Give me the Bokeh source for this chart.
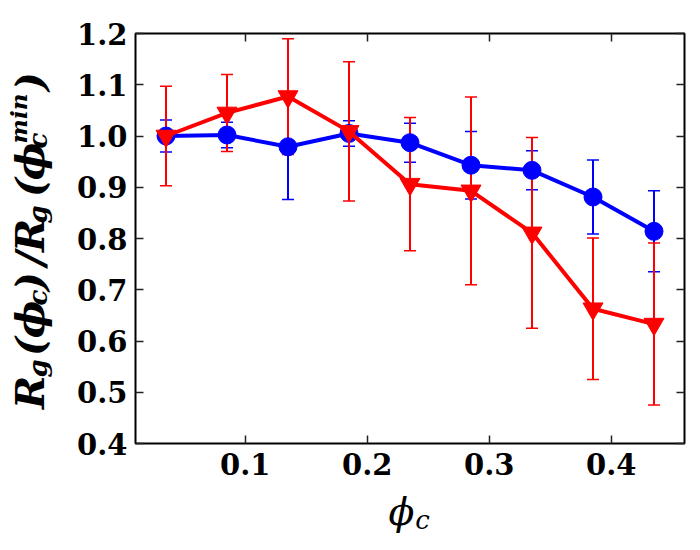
import math
from bokeh.plotting import figure
from bokeh.layouts import row, column
from bokeh.core.properties import value
from bokeh.models import (Range1d, FixedTicker, LinearAxis, Whisker, ColumnDataSource,
                          NumeralTickFormatter, TeeHead)
from bokeh.embed import file_html
from bokeh.resources import INLINE

# ---- data ----
phi_c = [0.035, 0.085, 0.135, 0.185, 0.235, 0.285, 0.335, 0.385, 0.435]
blue_ratio = [1.000, 1.002, 0.979, 1.005, 0.987, 0.943, 0.933, 0.881, 0.814]
blue_err = [0.031, 0.025, 0.103, 0.025, 0.038, 0.066, 0.038, 0.072, 0.079]
red_ratio = [1.000, 1.045, 1.077, 1.009, 0.906, 0.893, 0.811, 0.663, 0.633]
red_err = [0.097, 0.075, 0.113, 0.136, 0.130, 0.183, 0.186, 0.138, 0.158]
x_ticks = [0.1, 0.2, 0.3, 0.4]
y_ticks = [0.4, 0.5, 0.6, 0.7, 0.8, 0.9, 1.0, 1.1, 1.2]

BLUE = "#0000ff"
RED = "#ff0000"

W, H = 700, 550
LW = 60           # width of the y-label strip
MH = 490          # height of the main plot (incl. tick labels)
FL, FR, FT, FB = 135, 684, 33, 443  # frame edges in full-page px
X0, X1, Y0, Y1 = 0.01, 0.46, 0.4, 1.2

p = figure(width=W - LW, height=MH, output_backend="svg", toolbar_location=None,
           x_range=Range1d(X0, X1), y_range=Range1d(Y0, Y1),
           min_border_left=FL - LW, min_border_right=W - FR,
           min_border_top=FT, min_border_bottom=MH - FB)
p.background_fill_color = "white"
p.border_fill_color = "white"
p.grid.visible = False
p.outline_line_color = "black"
p.outline_line_width = 2

TICK_FONT = "DejaVu Serif"
for ax in p.xaxis:
    ax.ticker = FixedTicker(ticks=x_ticks)
    ax.formatter = NumeralTickFormatter(format="0.0")
for ax in p.yaxis:
    ax.ticker = FixedTicker(ticks=y_ticks)
    ax.formatter = NumeralTickFormatter(format="0.0")
for ax in list(p.xaxis) + list(p.yaxis):
    ax.axis_line_color = None
    ax.major_tick_in = 8
    ax.major_tick_out = 0
    ax.minor_tick_line_color = None
    ax.major_tick_line_color = "#222222"
    ax.major_tick_line_width = 1.5
    ax.major_label_text_font = TICK_FONT
    ax.major_label_text_font_style = "bold"
    ax.major_label_text_font_size = "29px"
    ax.major_label_text_color = "black"
p.xaxis.major_label_standoff = 9
p.yaxis.major_label_standoff = 8


def mirror_axis(ticks):
    return LinearAxis(ticker=FixedTicker(ticks=ticks), axis_line_color=None,
                      major_tick_in=8, major_tick_out=0, minor_tick_line_color=None,
                      major_tick_line_color="#222222", major_tick_line_width=1.5,
                      major_label_text_color=None, major_label_text_font_size="1px",
                      major_label_standoff=0)


p.add_layout(mirror_axis(x_ticks), "above")
p.add_layout(mirror_axis(y_ticks), "right")


def series(y, err, color, marker, size):
    src = ColumnDataSource(dict(
        x=phi_c, y=y,
        lo=[a - e for a, e in zip(y, err)],
        hi=[a + e for a, e in zip(y, err)]))
    w = Whisker(source=src, base="x", lower="lo", upper="hi", dimension="height",
                line_color=color, line_width=2,
                lower_head=TeeHead(size=12, line_color=color, line_width=1.5),
                upper_head=TeeHead(size=12, line_color=color, line_width=1.5))
    p.add_layout(w)
    p.line("x", "y", source=src, line_color=color, line_width=4)
    p.scatter("x", "y", source=src, marker=marker, size=size,
              fill_color=color, line_color=color)


series(blue_ratio, blue_err, BLUE, "circle", 18)
series(red_ratio, red_err, RED, "inverted_triangle", 20)


def strip(width, height, top=0, bottom=0):
    f = figure(width=width, height=height, output_backend="svg", toolbar_location=None,
               x_range=Range1d(0, width), y_range=Range1d(0, height - top - bottom),
               x_axis_location=None, y_axis_location=None, title=None,
               min_border=0, min_border_left=0, min_border_right=0,
               min_border_top=top, min_border_bottom=bottom)
    f.grid.visible = False
    f.outline_line_color = None
    f.background_fill_color = "white"
    f.border_fill_color = "white"
    return f


LBL_FONT = "DejaVu Serif"
SHIFT = 0.36  # offset (in em) between anchor and drawn baseline

# ---- y axis label: R_g(phi_c)/R_g(phi_c^min), composed of text pieces ----
# strip frame coincides with the main frame (rows align frames): y from FT to FB
ylab = strip(LW, MH, top=FT, bottom=MH - FB)
MAIN, SUB, SUP = 40, 26, 23
BASE, SUBB, SUPB = 43, 47, 26
ylabel_pieces = [
    ("R", 392, BASE, MAIN), ("g", 368, SUBB, SUB), ("(", 346, BASE, MAIN),
    ("ϕ", 319, BASE, MAIN), ("c", 297, SUBB, SUB), (")", 281, BASE, MAIN),
    ("/", 258, BASE, MAIN), ("R", 235, BASE, MAIN), ("g", 214, SUBB, SUB),
    ("(", 187, BASE, MAIN), ("ϕ", 161, BASE, MAIN), ("c", 140, SUBB, SUB),
    ("min", 118, SUPB, SUP), (")", 81, BASE, MAIN),
]
for t, cy, bx, fs in ylabel_pieces:
    ylab.text(x=[bx - SHIFT * fs], y=[FB - cy], text=[t], angle=math.pi / 2,
              text_align="center", text_baseline="alphabetic",
              text_font=value(LBL_FONT), text_font_style="bold italic",
              text_font_size=f"{fs}px", text_color="black")

# ---- x axis label: phi_c ----
XH = H - MH
xlab = strip(W, XH)
xlabel_pieces = [("ϕ", 401, 525, 38), ("c", 422, 529, 26)]
for t, cx, by, fs in xlabel_pieces:
    xlab.text(x=[cx], y=[H - (by - SHIFT * fs)], text=[t], text_align="center",
              text_baseline="alphabetic", text_font=value(LBL_FONT),
              text_font_style="italic", text_font_size=f"{fs}px",
              text_color="black")

layout = column(row(ylab, p, spacing=0), xlab, spacing=0)
open("out.html", "w").write(file_html(layout, INLINE))
